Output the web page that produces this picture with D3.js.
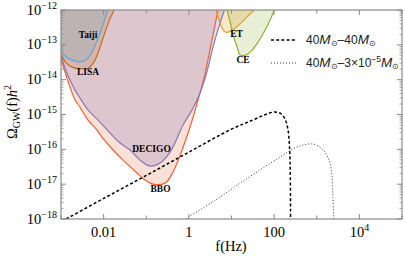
<!DOCTYPE html>
<html><head><meta charset="utf-8">
<script src="https://cdn.jsdelivr.net/npm/d3@7"></script>
<style>body{margin:0;background:#fff}svg{display:block}</style>
</head><body><svg id="c" width="405" height="264"></svg>
<script>
// Data: [log10 f (Hz), log10 Omega h^2]
const taiji = [[-3.3,-12.75],[-3.0,-13.15],[-2.906,-13.32],[-2.742,-13.44],[-2.554,-13.49],[-2.39,-13.41],[-2.249,-13.15],[-2.108,-12.75],[-1.991,-12.34],[-1.897,-12.0],[-1.83,-11.77]];
const lisa = [[-3.3,-12.85],[-3.0,-13.29],[-2.883,-13.52],[-2.742,-13.64],[-2.554,-13.69],[-2.366,-13.67],[-2.225,-13.49],[-2.108,-13.15],[-1.991,-12.72],[-1.873,-12.32],[-1.756,-12.0],[-1.709,-11.86]];
const decigo = [[-3.3,-12.4],[-3.0,-13.32],[-2.906,-13.67],[-2.789,-14.01],[-2.671,-14.30],[-2.554,-14.53],[-2.366,-14.87],[-2.085,-15.22],[-1.85,-15.53],[-1.615,-15.82],[-1.38,-16.02],[-1.146,-16.31],[-0.911,-16.48],[-0.676,-16.39],[-0.441,-16.08],[-0.136,-15.30],[0.075,-14.87],[0.24,-14.45],[0.404,-13.86],[0.58,-13.0],[0.74,-12.34],[0.85,-11.94],[0.9,-11.75]];
const bbo = [[-3.3,-12.4],[-3.0,-13.44],[-2.906,-13.78],[-2.789,-14.21],[-2.671,-14.58],[-2.554,-14.79],[-2.366,-15.16],[-2.155,-15.45],[-2.038,-15.65],[-1.779,-16.02],[-1.545,-16.31],[-1.216,-16.68],[-1.028,-16.88],[-0.84,-17.0],[-0.559,-16.97],[-0.371,-16.65],[-0.16,-16.02],[0.028,-15.36],[0.216,-14.58],[0.357,-13.95],[0.521,-12.98],[0.685,-12.0],[0.732,-11.71]];
const et = [[0.55,-11.7],[0.638,-12.0],[0.709,-12.29],[0.78,-12.52],[0.85,-12.63],[0.944,-12.63],[1.085,-12.52],[1.249,-12.34],[1.413,-12.14],[1.53,-12.0],[1.62,-11.86]];
const ce = [[0.85,-11.71],[0.897,-12.0],[0.967,-12.34],[1.038,-12.72],[1.131,-13.06],[1.202,-13.29],[1.343,-13.29],[1.484,-13.15],[1.624,-12.92],[1.765,-12.63],[1.906,-12.29],[2.0,-12.0],[2.047,-11.83]];
const bbhEqual = [[-3.2,-18.21],[-3,-18.08],[-2,-17.41],[-1,-16.75],[0,-16.08],[1.0,-15.42],[1.5,-15.16],[1.8,-15.0],[2.0,-14.93],[2.15,-14.97],[2.25,-15.12],[2.32,-15.40],[2.36,-15.9],[2.38,-16.8],[2.385,-18.5]];
const bbhUnequal = [[-0.2,-18.2],[-0.042,-17.97],[0.263,-17.74],[0.732,-17.37],[1.202,-16.97],[1.671,-16.59],[2.14,-16.22],[2.54,-15.93],[2.92,-15.85],[3.15,-16.02],[3.31,-16.39],[3.38,-17.37],[3.40,-18.3]];
const xTickExp = [-3,-2,-1,0,1,2,3,4,5];
const xLabels = {"-2":"0.01","0":"1","2":"100","4":"10^4"};
const yTickExp = [-18,-17,-16,-15,-14,-13,-12];

const svg = d3.select("#c");
const L=61,R=402,T=10,B=219;
const x = d3.scaleLog().domain([1e-3,1e5]).range([L,R]);
const y = d3.scaleLog().domain([1e-18,1e-12]).range([B,T]);
const P = p => [x(Math.pow(10,p[0])), y(Math.pow(10,p[1]))];

svg.append("defs").append("clipPath").attr("id","clip").append("rect").attr("x",L).attr("y",T).attr("width",R-L).attr("height",B-T);
const g = svg.append("g").attr("clip-path","url(#clip)");
const line = d3.line().curve(d3.curveCatmullRom.alpha(0.5));

const dets = [
 {d:bbo, c:"#EB6235", fo:0.2},
 {d:decigo, c:"#8778B3", fo:0.25},
 {d:lisa, c:"#C56E1A", fo:0.2},
 {d:taiji, c:"#5FA8D8", fo:0.2},
 {d:ce, c:"#8FB032", fo:0.2},
 {d:et, c:"#E19C24", fo:0.25}
];
dets.forEach(o=>{
  const pts=o.d.map(P);
  const f=pts[0], l=pts[pts.length-1];
  g.append("path").attr("d", line(pts)+`L${l[0]},-50L${f[0]},-50Z`)
    .attr("fill",o.c).attr("fill-opacity",o.fo).attr("stroke","none");
});
dets.forEach(o=>{
  g.append("path").attr("d", line(o.d.map(P))).attr("fill","none").attr("stroke",o.c).attr("stroke-width",1.2);
});
g.append("path").attr("d",line(bbhEqual.map(P))).attr("fill","none").attr("stroke","#000").attr("stroke-width",1.5).attr("stroke-dasharray","3,2.2");
g.append("path").attr("d",line(bbhUnequal.map(P))).attr("fill","none").attr("stroke","#333").attr("stroke-width",1).attr("stroke-dasharray","1,2");

// detector labels
const lab = [["Taiji",-2.366,-12.80],["LISA",-2.366,-13.87],["DECIGO",-0.876,-16.08],["BBO",-0.664,-17.23],["ET",1.12,-12.78],["CE",1.272,-13.52]];
lab.forEach(a=>{
  svg.append("text").attr("x",x(Math.pow(10,a[1]))).attr("y",y(Math.pow(10,a[2])))
   .attr("text-anchor","middle").attr("font-family","Liberation Serif").attr("font-weight","bold").attr("font-size",9.5).text(a[0]);
});

// frame
const ax = svg.append("g").attr("stroke","#8a8a8a").attr("fill","none");
ax.append("rect").attr("x",L).attr("y",T).attr("width",R-L).attr("height",B-T).attr("stroke-width",1.2);
xTickExp.forEach(e=>{
  const px=x(Math.pow(10,e)); const len = xLabels[e]!==undefined?5:3.5;
  ax.append("line").attr("x1",px).attr("x2",px).attr("y1",B).attr("y2",B-len);
  ax.append("line").attr("x1",px).attr("x2",px).attr("y1",T).attr("y2",T+len);
});
yTickExp.forEach(e=>{
  const py=y(Math.pow(10,e));
  ax.append("line").attr("x1",L).attr("x2",L+5).attr("y1",py).attr("y2",py);
  ax.append("line").attr("x1",R).attr("x2",R-5).attr("y1",py).attr("y2",py);
  if(e<-12) for(let k=2;k<10;k++){
    const pm=y(k*Math.pow(10,e));
    ax.append("line").attr("x1",L).attr("x2",L+2.5).attr("y1",pm).attr("y2",pm).attr("stroke-width",0.7);
    ax.append("line").attr("x1",R).attr("x2",R-2.5).attr("y1",pm).attr("y2",pm).attr("stroke-width",0.7);
  }
});
const SF="Liberation Serif";
yTickExp.forEach(e=>{
  const t=svg.append("text").attr("x",57).attr("y",y(Math.pow(10,e))+4.5).attr("text-anchor","end")
   .attr("font-family",SF).attr("font-size",14.5);
  t.append("tspan").text("10");
  t.append("tspan").attr("dy",-6).attr("font-size",10).text("\u2212"+(-e));
});
Object.keys(xLabels).forEach(k=>{
  const s=xLabels[k]; const px=x(Math.pow(10,+k));
  const t=svg.append("text").attr("x",px).attr("y",237).attr("text-anchor","middle").attr("font-family",SF).attr("font-size",14.5);
  if(s.includes("^")){ const [b,p]=s.split("^"); t.append("tspan").text(b); t.append("tspan").attr("dy",-6).attr("font-size",10).text(p); }
  else t.text(s);
});
svg.append("text").attr("x",231).attr("y",251).attr("text-anchor","middle").attr("font-family",SF).attr("font-size",14.5).text("f(Hz)");
const yt=svg.append("text").attr("transform","translate(17,112) rotate(-90)").attr("text-anchor","middle").attr("font-family",SF).attr("font-size",14.5);
yt.append("tspan").text("\u03A9");
yt.append("tspan").attr("font-size",10).attr("dy",3).text("GW");
yt.append("tspan").attr("dy",-3).text("(f)");
yt.append("tspan").attr("font-style","italic").text("h");
yt.append("tspan").attr("font-size",10).attr("dy",-6).text("2");

// legend
const LF="Liberation Sans";
svg.append("line").attr("x1",271).attr("x2",297).attr("y1",40).attr("y2",40).attr("stroke","#000").attr("stroke-width",1.5).attr("stroke-dasharray","3,2.2");
svg.append("line").attr("x1",271).attr("x2",297).attr("y1",63).attr("y2",63).attr("stroke","#333").attr("stroke-width",1).attr("stroke-dasharray","1,2");
function leg(yy, parts){
  const t=svg.append("text").attr("x",306).attr("y",yy).attr("font-family",LF).attr("font-size",12).attr("fill","#222");
  parts.forEach(p=>{ const s=t.append("tspan").text(p[0]); if(p[1]) Object.entries(p[1]).forEach(([k,v])=>s.attr(k,v)); });
}
leg(44,[["40"],["M",{"font-style":"italic","font-size":13.5}],["\u2299",{"font-size":8,"dy":2}],["\u2013",{"dy":-2}],["40"],["M",{"font-style":"italic","font-size":13.5}],["\u2299",{"font-size":8,"dy":2}]]);
leg(67,[["40"],["M",{"font-style":"italic","font-size":13.5}],["\u2299",{"font-size":8,"dy":2}],["\u2013",{"dy":-2}],["3\u00D710"],["\u22125",{"font-size":8.5,"dy":-5}],["M",{"font-style":"italic","font-size":13.5,"dy":5}],["\u2299",{"font-size":8,"dy":2}]]);
</script></body></html>
